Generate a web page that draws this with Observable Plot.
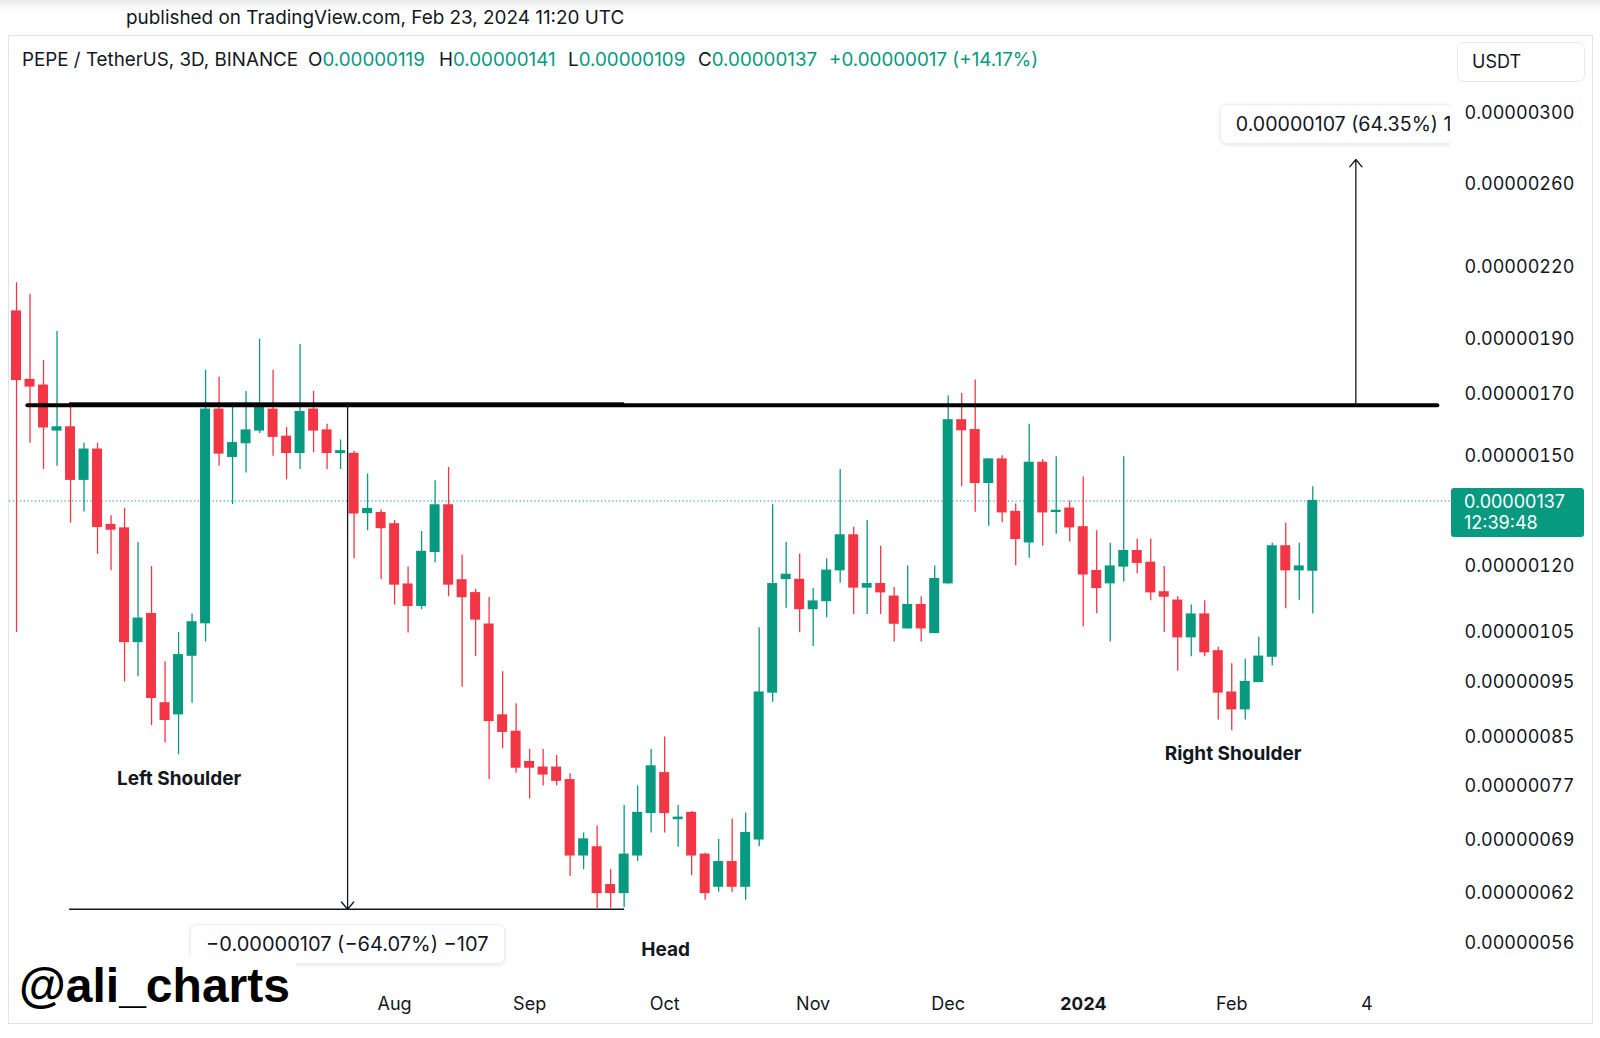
<!DOCTYPE html>
<html>
<head>
<meta charset="utf-8">
<script src="https://cdn.jsdelivr.net/npm/d3@7"></script>
<script src="https://cdn.jsdelivr.net/npm/@observablehq/plot@0.6"></script>
<style>
  html, body { margin: 0; padding: 0; background: #fff; }
  body { width: 1600px; height: 1038px; position: relative; overflow: hidden;
         font-family: Inter, "Noto Sans", sans-serif; color: #131722; }
  #topbar { position: absolute; left: 0; top: 0; width: 1600px; height: 34px;
            background: linear-gradient(#e6e6e8 0px, #f6f6f7 5px, #ffffff 12px); }
  #published { position: absolute; left: 126px; top: 6px; font-size: 18.9px; line-height: 24px; white-space: nowrap; }
  #frame { position: absolute; left: 8px; top: 35px; width: 1585px; height: 989px;
           border: 1px solid #e0e3eb; box-sizing: border-box; }
  #chart { position: absolute; left: 0; top: 0; }
  .ov { position: absolute; white-space: nowrap; }
  .legend { font-size: 18.8px; line-height: 24px; top: 48px; color: #131722; }
  .legend .v { color: #089981; }
  #usdt { left: 1457px; top: 42px; width: 128px; height: 40px; box-sizing: border-box;
          border: 1px solid #e6e8ee; border-radius: 7px; font-size: 18px; line-height: 38px; padding-left: 14px; }
  #pricetag { left: 1451px; width: 133px; height: 49px; background: #089981; color: #fff; border-radius: 3px;
              font-size: 18px; line-height: 21px; padding: 3px 0 0 13px; box-sizing: border-box; }
  .rbox { background: #fff; border: 1px solid #eceef2; border-radius: 7px;
          box-shadow: 0 1px 4px rgba(0,0,0,0.10); font-size: 20px; line-height: 24px; padding: 7px 15px; color: #131722; }
  .rbox.up { font-size: 19.6px; }
  #clip { position: absolute; overflow: hidden; }
  #wm { left: 9px; top: 956px; width: 287px; height: 66px; background: #fff; }
  #wm span { position: absolute; left: 10px; top: -3px; font-family: "Liberation Sans", Arial, sans-serif;
             font-weight: bold; font-size: 48px; line-height: 66px; color: #000; }
</style>
</head>
<body>
<div id="topbar"></div>
<div id="published">published on TradingView.com, Feb 23, 2024 11:20 UTC</div>
<div id="frame"></div>
<div id="chart"></div>
<script>
// ---- data: PEPE/USDT 3D candles, prices in units of 1e-8 USDT ----
const candleOpen = [201,175,173,158,159,143,152,130.5,129.6,103,109,91,89,100.2,107,164.8,149.8,154,158,164.8,
  156,151,164.8,158,151,150.7,133.7,133.7,130.7,115.7,110.8,123.6,135.8,116.7,113.7,106.7,88.8,85.9,80.8,79.9,
  79.9,77.9,66.9,68,63,62,66.9,72.9,79,72,72.9,67,62.8,66,62.8,69.1,93,117,116.8,110.1,
  111.9,119.1,127.8,115,115.8,112.9,105.9,111,104.9,116,161.3,158.1,142.1,149,134,126,148,134,134.9,129.9,
  118.9,116,120,123.8,120.9,113.9,112,104,108.9,101.1,93,89.9,95,100,125,119.1,119];
const candleHigh = [213,208,182,193,167,154,154,133,135,126,120,99,105,109,178.5,176,167,171,190,178.5,
  159,188,171,160,155,151.5,144.7,134.6,131.7,119.9,128.8,142.7,146.6,122.8,114.6,112.7,97,90.9,82.9,82.9,
  81.9,78.9,70,71,65,74,77,82.9,85,74,73.1,67.2,69.1,72,72.9,106,136,126,123.1,114.8,
  121.9,146,129.9,131.7,125,115,120.1,112.9,120.1,169.5,170.3,175,149.3,150.1,136.2,160,149,149.8,137,143.8,
  129,125.8,149.8,126.9,126.9,120,112.9,111,112,101.9,98.6,99.5,104,125.8,131,125.8,141];
const candleLow = [105,154,146,147,131,134,123,119,95,96,87,84,82,91,103,147,136,145,157,150,
  143,146,151,146,146,121.9,129,116.9,111,104.9,110,120.9,112.9,94,100,78,83,79,75,77,
  77,64.1,65,60.1,60.1,60.2,66.1,70,70,68,64.2,61.1,62.1,62.1,61.1,68.1,91.2,110.3,105,102.1,
  108.2,116,108.9,108.9,108.9,103,105.7,103,104.8,115.8,141.1,133.9,130.2,131.1,120.2,122,125,128.1,126.1,106.2,
  109.1,103,116.3,118.2,112,105,97.1,100,100,88,86.1,88,95,98.2,110.2,112.1,109];
const candleClose = [175,172.7,159,159,143,152,130,129.3,103,108,92,88,100.3,107.2,164.8,150.8,154,158,166,156,
  151,164,158,151,151.5,133.6,134.8,129.7,115.7,110.8,123.6,135.8,115.7,112.8,107.8,87.8,85.9,79.9,79.9,78.8,
  77.8,66.9,69.1,62,62,67,72.9,80.1,72.9,72.2,66.9,62,66,62.8,70,93,115.8,118,110.1,111.8,
  119,127.8,115,115.8,113.9,106.9,111,105.9,117,161.3,158.1,142.1,149,133.9,126.9,148,133.9,134.3,129.9,118.1,
  114.9,120,123.8,120.9,113.9,112.9,104,108.9,100.9,93,89.9,95,100,125,119.1,120,137];

// time axis: bar index of the first bar of each month
const xTickIndex  = [28, 38, 48, 59, 69, 79, 90, 100];
const xTickLabels = ["Aug", "Sep", "Oct", "Nov", "Dec", "2024", "Feb", "4"];
const yTicks = [300, 260, 220, 190, 170, 150, 120, 105, 95, 85, 77, 69, 62, 56];

// annotations (drawn in data space)
const lastClose = 137;
const neckline = [{price: 166.3, from: 0.84, to: 105.26}];
const rangeLines = [{price: 167.0, from: 3.93, to: 45.04}, {price: 60.0, from: 3.93, to: 45.04}];
const rangeArrows = [{x: 24.52, from: 167.0, to: 60.0, label: "\u22120.00000107 (\u221264.07%) \u2212107"},
                     {x: 99.19, from: 166.3, to: 273.3, label: "0.00000107 (64.35%) 107"}];
const patternLabels = [{i: 12.04, price: 78.1, label: "Left Shoulder"},
                       {i: 48.07, price: 55.3, label: "Head"},
                       {i: 90.1, price: 82.1, label: "Right Shoulder"}];

const GREEN = "#089981", RED = "#F23645", INK = "#131722";
const fmt = v => (v / 1e8).toFixed(8);

const candles = candleOpen.map((o, i) => ({i, open: o, high: candleHigh[i], low: candleLow[i], close: candleClose[i]}));
const up = candles.filter(d => d.close >= d.open);
const down = candles.filter(d => d.close < d.open);
const HALF = 0.37;

const chart = Plot.plot({
  width: 1600, height: 1038,
  marginLeft: 9, marginRight: 150, marginTop: 37, marginBottom: 58,
  style: {background: "transparent", fontFamily: "Inter, 'Noto Sans', sans-serif", fontSize: "18px", color: INK, overflow: "visible"},
  x: {domain: [-0.52, 106.2], label: null},
  y: {type: "log", domain: [51.95, 349.8], label: null},
  marks: [
    Plot.ruleY([lastClose], {stroke: GREEN, strokeWidth: 1.2, strokeDasharray: "1.3,2.4"}),
    Plot.ruleX(up, {x: "i", y1: "low", y2: "high", stroke: GREEN, strokeWidth: 1.3}),
    Plot.ruleX(down, {x: "i", y1: "low", y2: "high", stroke: RED, strokeWidth: 1.3}),
    Plot.rect(up, {x1: d => d.i - HALF, x2: d => d.i + HALF, y1: "open", y2: "close", fill: GREEN, insetTop: -0.6, insetBottom: -0.6}),
    Plot.rect(down, {x1: d => d.i - HALF, x2: d => d.i + HALF, y1: "open", y2: "close", fill: RED, insetTop: -0.6, insetBottom: -0.6}),
    Plot.ruleY(rangeLines, {y: "price", x1: "from", x2: "to", stroke: INK, strokeWidth: 1.6}),
    Plot.ruleY(neckline, {y: "price", x1: "from", x2: "to", stroke: "#000", strokeWidth: 4, strokeLinecap: "round"}),
    Plot.arrow(rangeArrows, {x1: "x", x2: "x", y1: "from", y2: "to", stroke: INK, strokeWidth: 1.3, headLength: 11, headAngle: 80}),
    Plot.text(patternLabels, {x: "i", y: "price", text: "label", fontWeight: "bold", fontSize: 19, fill: INK}),
    Plot.axisY({anchor: "right", ticks: yTicks, tickFormat: fmt, tickSize: 0, tickPadding: 14, fontSize: 18, fill: INK}),
    Plot.axisX({ticks: xTickIndex.filter(t => t !== 79), tickFormat: t => xTickLabels[xTickIndex.indexOf(t)],
                tickSize: 0, tickPadding: 17, fontSize: 18, fill: INK}),
    Plot.axisX({ticks: [79], tickFormat: t => xTickLabels[xTickIndex.indexOf(t)], fontWeight: "bold",
                tickSize: 0, tickPadding: 17, fontSize: 18, fill: INK})
  ]
});
document.getElementById("chart").appendChild(chart);

const xs = chart.scale("x"), ys = chart.scale("y");
const body = document.body;
function ov(html, cls, css) {
  const el = document.createElement("div");
  el.className = "ov " + (cls || "");
  el.innerHTML = html;
  Object.assign(el.style, css || {});
  body.appendChild(el);
  return el;
}

// legend line
const legendParts = [
  [22, "PEPE / TetherUS, 3D, BINANCE"],
  [308, 'O<span class="v">0.00000119</span>'],
  [439, 'H<span class="v">0.00000141</span>'],
  [568, 'L<span class="v">0.00000109</span>'],
  [698, 'C<span class="v">0.00000137</span>'],
  [829, '<span class="v">+0.00000017 (+14.17%)</span>']
];
legendParts.forEach(([x, h]) => ov(h, "legend", {left: x + "px"}));

ov("USDT", "", {}).id = "usdt";
const tag = ov(fmt(lastClose) + "<br>12:39:48", "", {top: (ys.apply(lastClose) - 13) + "px"});
tag.id = "pricetag";

// measurement labels, clipped to the plotting area (as in the original chart)
const clip = document.createElement("div");
clip.id = "clip";
Object.assign(clip.style, {left: "9px", top: "37px", width: "1441px", height: "943px"});
body.appendChild(clip);
rangeArrows.forEach(a => {
  const el = document.createElement("div");
  const down = a.to < a.from;
  el.className = "ov rbox" + (down ? "" : " up");
  el.textContent = a.label;
  clip.appendChild(el);
  const cx = xs.apply(a.x) - 9;
  if (down) el.style.top = (ys.apply(a.to) + 15 - 37) + "px";
  else el.style.top = (ys.apply(a.to) - 15 - 40 - 37) + "px";
  el.style.left = (cx - el.offsetWidth / 2) + "px";
});

const wm = ov("<span>@ali_charts</span>", "", {});
wm.id = "wm";
</script>
</body>
</html>
